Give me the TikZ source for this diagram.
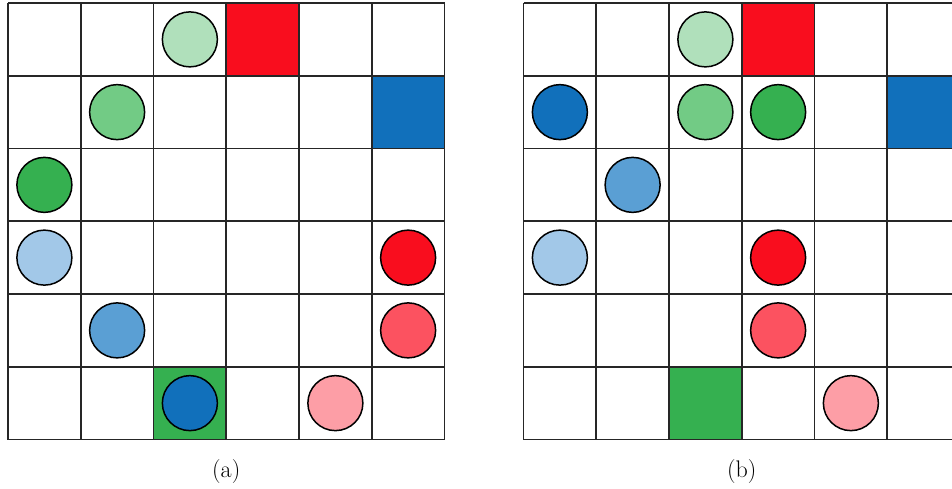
\documentclass[tikz,border=0pt]{standalone}
\usepackage{fontspec}
\definecolor{lgreen}{HTML}{B0E0BB}
\definecolor{mgreen}{HTML}{72CB85}
\definecolor{dgreen}{HTML}{35B050}
\definecolor{lblue}{HTML}{A2C8E8}
\definecolor{mblue}{HTML}{5A9FD4}
\definecolor{dblue}{HTML}{1170BB}
\definecolor{lred}{HTML}{FD9EA6}
\definecolor{mred}{HTML}{FC5260}
\definecolor{dred}{HTML}{F90D1E}
\begin{document}
\begin{tikzpicture}[x=1pt,y=-1pt,
  gridline/.style={line width=1.8pt,draw=black!85},
  token/.style={circle,draw=black,line width=1.5pt,minimum size=55pt,inner sep=0pt},
  caplabel/.style={font=\fontsize{24}{28}\selectfont,inner sep=0pt}]
\useasboundingbox (0,0) rectangle (952,488);
\clip (0,0) rectangle (952,488);
\def\c{72.75}
% ---------- grid (a) ----------
\begin{scope}[shift={(8,3)}]
  \fill[dred] (3*\c,0) rectangle (4*\c,\c);
  \fill[dblue] (5*\c,\c) rectangle (6*\c,2*\c);
  \fill[dgreen] (2*\c,5*\c) rectangle (3*\c,6*\c);
  \foreach \i in {0,...,6} {
    \draw[gridline] (\i*\c,0) -- (\i*\c,6*\c);
    \draw[gridline] (0,\i*\c) -- (6*\c,\i*\c);
  }
  \node[token,fill=lgreen] (a1) at (2.5*\c,0.5*\c) {};
  \node[token,fill=mgreen] (a2) at (1.5*\c,1.5*\c) {};
  \node[token,fill=dgreen] (a3) at (0.5*\c,2.5*\c) {};
  \node[token,fill=lblue] (a4) at (0.5*\c,3.5*\c) {};
  \node[token,fill=dred] (a5) at (5.5*\c,3.5*\c) {};
  \node[token,fill=mblue] (a6) at (1.5*\c,4.5*\c) {};
  \node[token,fill=mred] (a7) at (5.5*\c,4.5*\c) {};
  \node[token,fill=dblue] (a8) at (2.5*\c,5.5*\c) {};
  \node[token,fill=lred] (a9) at (4.5*\c,5.5*\c) {};
  \node[caplabel] (la) at (3*\c,6*\c+32) {(a)};
\end{scope}
% ---------- grid (b) ----------
\begin{scope}[shift={(523.5,3)}]
  \fill[dred] (3*\c,0) rectangle (4*\c,\c);
  \fill[dblue] (5*\c,\c) rectangle (6*\c,2*\c);
  \fill[dgreen] (2*\c,5*\c) rectangle (3*\c,6*\c);
  \foreach \i in {0,...,6} {
    \draw[gridline] (\i*\c,0) -- (\i*\c,6*\c);
    \draw[gridline] (0,\i*\c) -- (6*\c,\i*\c);
  }
  \node[token,fill=lgreen] (b1) at (2.5*\c,0.5*\c) {};
  \node[token,fill=dblue] (b2) at (0.5*\c,1.5*\c) {};
  \node[token,fill=mgreen] (b3) at (2.5*\c,1.5*\c) {};
  \node[token,fill=dgreen] (b4) at (3.5*\c,1.5*\c) {};
  \node[token,fill=mblue] (b5) at (1.5*\c,2.5*\c) {};
  \node[token,fill=lblue] (b6) at (0.5*\c,3.5*\c) {};
  \node[token,fill=dred] (b7) at (3.5*\c,3.5*\c) {};
  \node[token,fill=mred] (b8) at (3.5*\c,4.5*\c) {};
  \node[token,fill=lred] (b9) at (4.5*\c,5.5*\c) {};
  \node[caplabel] (lb) at (3*\c,6*\c+32) {(b)};
\end{scope}
\end{tikzpicture}
\end{document}
